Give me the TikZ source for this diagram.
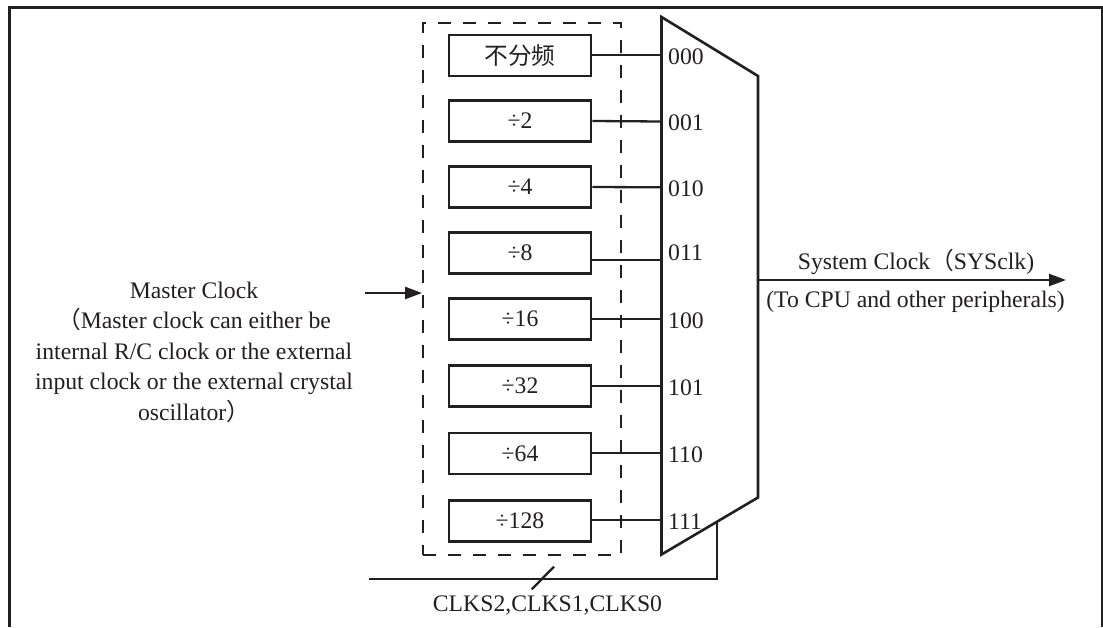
\documentclass[tikz,border=0pt]{standalone}
\usepackage{fontspec}
\setmainfont{Liberation Serif}
\newfontfamily\cjk{Noto Sans CJK SC}
\usetikzlibrary{arrows.meta}
\definecolor{ink}{RGB}{35,31,32}
\newcommand{\fwl}{{\cjk （}}
\newcommand{\fwr}{{\cjk ）}}
\begin{document}
\begin{tikzpicture}[x=1pt,y=-1pt,
  every node/.style={font=\fontsize{23.7}{30.5}\selectfont, text=ink},
  divbox/.style={draw=ink, line width=2.6pt, minimum width=142pt, minimum height=41pt, inner sep=0pt},
  sellabel/.style={anchor=west, inner sep=0pt},
  wire/.style={draw=ink, line width=2.3pt},
  framepen/.style={draw=ink, line width=2.8pt},
  dashbox/.style={draw=ink, line width=1.9pt, dash pattern=on 13pt off 12pt, minimum width=198pt, minimum height=532pt, inner sep=0pt},
  arr/.style={wire, -{Triangle[length=17pt,width=12pt]}}
]
\useasboundingbox (0,0) rectangle (1103,627);
% outer frame
\coordinate (fbl) at (9.8,627);
\coordinate (ftr) at (1102,7.5);
\coordinate (fbr) at (1102,627);
\draw[framepen] (fbl) |- (ftr) -- (fbr);
% dashed group
\node[dashbox] (grp) at (522,289) {};
% divider boxes
\node[divbox] (b0) at (520,55.3) {\cjk 不分频};
\node[divbox] (b1) at (520,121) {÷2};
\node[divbox] (b2) at (520,187) {÷4};
\node[divbox] (b3) at (520,252.7) {÷8};
\node[divbox] (b4) at (520,319) {÷16};
\node[divbox] (b5) at (520,386) {÷32};
\node[divbox] (b6) at (520,453.3) {÷64};
\node[divbox] (b7) at (520,521) {÷128};
% multiplexer
\coordinate (mtl) at (661.5,17);
\coordinate (mtr) at (758,76);
\coordinate (mbr) at (758,497.5);
\coordinate (mbl) at (661.5,554.5);
\draw[wire, line width=2.6pt, line join=miter] (mtl) -- (mtr) -- (mbr) -- (mbl) -- cycle;
% mux inputs
\coordinate (m0) at (661.5,55.3);
\coordinate (m1) at (661.5,121.5);
\coordinate (m2) at (661.5,187.3);
\coordinate (m3) at (661.5,260);
\coordinate (m4) at (661.5,319);
\coordinate (m5) at (661.5,386);
\coordinate (m6) at (661.5,452.7);
\coordinate (m7) at (661.5,520);
\draw[wire] (b0.east) -- (m0);
\draw[wire] (b1.east) -- (m1);
\draw[wire] (b2.east) -- (m2);
\draw[wire] (b3.east |- m3) -- (m3);
\draw[wire] (b4.east) -- (m4);
\draw[wire] (b5.east) -- (m5);
\draw[wire] (b6.east |- m6) -- (m6);
\draw[wire] (b7.east |- m7) -- (m7);
\node[sellabel] (l0) at (668,57) {000};
\node[sellabel] (l1) at (668,123) {001};
\node[sellabel] (l2) at (668,189) {010};
\node[sellabel] (l3) at (668,253) {011};
\node[sellabel] (l4) at (668,321) {100};
\node[sellabel] (l5) at (668,388) {101};
\node[sellabel] (l6) at (668,455) {110};
\node[sellabel] (l7) at (668,522) {111};
% output
\coordinate (out) at (758,280);
\coordinate (outend) at (1066,280);
\draw[arr] (out) -- (outend);
\node (sys) at (916,262) {System Clock\fwl SYSclk)};
\node (cpu) at (915.5,302) {(To CPU and other peripherals)};
% input
\coordinate (inst) at (365,293);
\draw[arr] (inst) -- (inst -| grp.west);
\node[align=center, inner sep=0pt] (mc) at (194,352) {Master Clock\\\fwl Master clock can either be\\internal R/C clock or the external\\input clock or the external crystal\\oscillator\fwr};
% select lines
\coordinate (cs) at (369,579);
\coordinate (sel) at (717,521.5);
\draw[wire] (cs) -| (sel);
\coordinate (sl1) at (531.7,589.3);
\coordinate (sl2) at (554,566.7);
\draw[wire] (sl1) -- (sl2);
\node (clks) at (547.5,605) {CLKS2,CLKS1,CLKS0};
\end{tikzpicture}
\end{document}
